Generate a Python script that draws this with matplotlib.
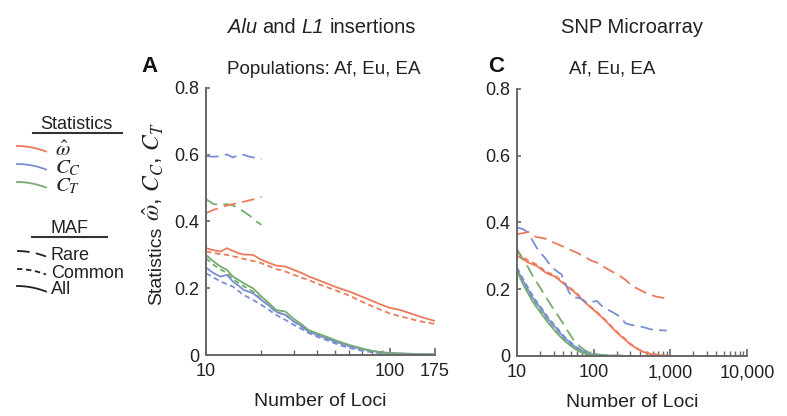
import numpy as np
import matplotlib
matplotlib.use('Agg')
import matplotlib.pyplot as plt
from matplotlib.lines import Line2D
from matplotlib.ticker import LogLocator, NullFormatter

plt.rcParams['font.family'] = ['Liberation Sans', 'DejaVu Sans']
plt.rcParams['mathtext.fontset'] = 'stix'

W, H = 787, 416

# ---- panel A: Alu and L1 insertions ----
L_X_RARE = [10, 11, 12, 13, 14, 15, 16, 17, 18, 19, 20]
L_OMEGA_RARE = [0.425, 0.435, 0.442, 0.448, 0.452, 0.455, 0.459, 0.463, 0.466, 0.470, 0.474]
L_CC_RARE = [0.596, 0.594, 0.596, 0.601, 0.592, 0.598, 0.600, 0.595, 0.592, 0.590, 0.587]
L_CT_RARE = [0.467, 0.452, 0.450, 0.452, 0.448, 0.440, 0.430, 0.420, 0.410, 0.398, 0.390]

L_X = [10, 11, 12, 13, 14, 15, 16, 18, 20, 22, 24, 27, 30, 33, 36, 40, 45, 50, 55,
       60, 70, 80, 90, 100, 113, 125, 140, 155, 175]
L_OMEGA_ALL = [0.320, 0.314, 0.310, 0.320, 0.312, 0.305, 0.301, 0.300, 0.285, 0.276,
               0.268, 0.265, 0.255, 0.246, 0.236, 0.226, 0.215, 0.205, 0.197, 0.190,
               0.175, 0.162, 0.150, 0.141, 0.135, 0.127, 0.118, 0.110, 0.102]
L_OMEGA_COMMON = [0.310, 0.306, 0.302, 0.300, 0.296, 0.292, 0.288, 0.282, 0.275, 0.266,
                  0.258, 0.250, 0.240, 0.232, 0.225, 0.214, 0.204, 0.195, 0.186, 0.178,
                  0.160, 0.146, 0.134, 0.124, 0.116, 0.110, 0.103, 0.098, 0.093]
L_CT_ALL = [0.300, 0.280, 0.265, 0.255, 0.235, 0.225, 0.215, 0.200, 0.175, 0.155,
            0.135, 0.130, 0.108, 0.092, 0.075, 0.065, 0.055, 0.045, 0.037, 0.030,
            0.020, 0.012, 0.008, 0.005, 0.004, 0.003, 0.002, 0.002, 0.001]
L_CT_COMMON = [0.290, 0.270, 0.256, 0.246, 0.228, 0.216, 0.206, 0.190, 0.166, 0.147,
               0.128, 0.120, 0.100, 0.085, 0.070, 0.060, 0.050, 0.040, 0.033, 0.027,
               0.018, 0.011, 0.007, 0.004, 0.003, 0.002, 0.002, 0.001, 0.001]
L_CC_ALL = [0.262, 0.245, 0.235, 0.240, 0.220, 0.208, 0.195, 0.185, 0.165, 0.148,
            0.130, 0.120, 0.100, 0.087, 0.070, 0.060, 0.050, 0.040, 0.033, 0.026,
            0.018, 0.012, 0.008, 0.006, 0.005, 0.004, 0.003, 0.002, 0.002]
L_CC_COMMON = [0.245, 0.232, 0.220, 0.212, 0.205, 0.192, 0.180, 0.165, 0.150, 0.135,
               0.120, 0.105, 0.090, 0.078, 0.066, 0.055, 0.045, 0.035, 0.027, 0.021,
               0.013, 0.008, 0.005, 0.003, 0.002, 0.002, 0.001, 0.001, 0.001]

# ---- panel C: SNP microarray ----
R_X = [10, 12, 14, 16, 18, 20, 23, 26, 30, 34, 38, 43, 48, 54, 60, 68, 76, 85, 95,
       110, 125, 145, 165, 190, 220, 260, 300, 350, 400, 470, 550, 650, 770, 900]
R_OMEGA_RARE = [0.365, 0.368, 0.372, 0.362, 0.356, 0.355, 0.352, 0.347, 0.340, 0.335,
                0.330, 0.325, 0.320, 0.314, 0.310, 0.303, 0.297, 0.291, 0.285, 0.280,
                0.272, 0.263, 0.256, 0.248, 0.240, 0.228, 0.215, 0.205, 0.198, 0.190,
                0.184, 0.178, 0.175, 0.172]
R_CC_RARE = [0.385, 0.380, 0.370, 0.345, 0.325, 0.310, 0.295, 0.278, 0.262, 0.252,
             0.245, 0.215, 0.190, 0.175, 0.175, 0.172, 0.163, 0.158, 0.162, 0.165,
             0.152, 0.141, 0.135, 0.127, 0.118, 0.098, 0.094, 0.091, 0.089, 0.085,
             0.080, 0.078, 0.077, 0.076]
R_CT_RARE = [0.320, 0.290, 0.265, 0.240, 0.222, 0.205, 0.182, 0.163, 0.140, 0.122,
             0.105, 0.085, 0.068, 0.050, 0.038, 0.026, 0.018, 0.012, 0.008, 0.005,
             0.003, 0.002, 0.001, 0.001, 0.001, 0.0, 0.0, 0.0, 0.0, 0.0,
             0.0, 0.0, 0.0, 0.0]
R_OMEGA_ALL = [0.300, 0.290, 0.280, 0.275, 0.270, 0.262, 0.252, 0.245, 0.240, 0.232,
               0.222, 0.212, 0.203, 0.195, 0.185, 0.173, 0.162, 0.152, 0.142, 0.130,
               0.118, 0.104, 0.090, 0.076, 0.062, 0.048, 0.035, 0.025, 0.017, 0.010,
               0.006, 0.004, 0.002, 0.001]
R_OMEGA_COMMON = [0.310, 0.297, 0.286, 0.280, 0.274, 0.266, 0.256, 0.249, 0.243, 0.235,
                  0.225, 0.215, 0.206, 0.197, 0.188, 0.176, 0.165, 0.154, 0.144, 0.132,
                  0.120, 0.106, 0.092, 0.078, 0.064, 0.050, 0.037, 0.026, 0.018, 0.011,
                  0.007, 0.004, 0.002, 0.001]
R_CC_ALL = [0.260, 0.225, 0.198, 0.175, 0.158, 0.145, 0.125, 0.108, 0.092, 0.078,
            0.064, 0.052, 0.042, 0.032, 0.024, 0.017, 0.012, 0.008, 0.005, 0.004,
            0.003, 0.002, 0.001, 0.001, 0.001, 0.0, 0.0, 0.0, 0.0, 0.0,
            0.0, 0.0, 0.0, 0.0]
R_CC_COMMON = [0.265, 0.231, 0.204, 0.181, 0.163, 0.150, 0.130, 0.112, 0.096, 0.082,
               0.068, 0.055, 0.045, 0.035, 0.026, 0.019, 0.013, 0.009, 0.006, 0.004,
               0.003, 0.002, 0.001, 0.001, 0.001, 0.0, 0.0, 0.0, 0.0, 0.0,
               0.0, 0.0, 0.0, 0.0]
R_CT_ALL = [0.255, 0.215, 0.187, 0.163, 0.146, 0.132, 0.113, 0.097, 0.080, 0.066,
            0.054, 0.043, 0.034, 0.025, 0.018, 0.012, 0.008, 0.005, 0.003, 0.002,
            0.001, 0.001, 0.0, 0.0, 0.0, 0.0, 0.0, 0.0, 0.0, 0.0,
            0.0, 0.0, 0.0, 0.0]
R_CT_COMMON = [0.258, 0.219, 0.191, 0.167, 0.150, 0.136, 0.117, 0.100, 0.083, 0.069,
               0.057, 0.046, 0.036, 0.027, 0.020, 0.013, 0.009, 0.006, 0.004, 0.002,
               0.001, 0.001, 0.0, 0.0, 0.0, 0.0, 0.0, 0.0, 0.0, 0.0,
               0.0, 0.0, 0.0, 0.0]

ORANGE = '#EE7A5C'
BLUE = '#7B8ED3'
GREEN = '#76AC70'
RARE = (0, (7, 3.5))
COMMON = (0, (3, 2))
ALL = '-'
LW = 1.3
SPINE = '#666666'
INK = '#222222'


def px(x, y):
    return x / W, 1 - y / H


def style_axes(ax):
    for side in ('top', 'right'):
        ax.spines[side].set_visible(False)
    for side in ('left', 'bottom'):
        ax.spines[side].set_color(SPINE)
        ax.spines[side].set_linewidth(1.4)
    ax.set_xscale('log')
    ax.set_ylim(0, 0.8)
    ax.set_yticks([0, 0.2, 0.4, 0.6, 0.8])
    ax.set_yticklabels(['0', '0.2', '0.4', '0.6', '0.8'])
    ax.tick_params(which='both', direction='in', color=SPINE, labelsize=13,
                   labelcolor=INK)
    ax.tick_params(axis='y', length=3, width=1.2, pad=5)
    ax.tick_params(axis='x', which='major', length=5, width=1.2, pad=6)
    ax.tick_params(axis='x', which='minor', length=3.5, width=1.0)
    ax.xaxis.set_minor_locator(LogLocator(base=10, subs=range(2, 10)))
    ax.xaxis.set_minor_formatter(NullFormatter())
    ax.set_xlabel('Number of Loci', fontsize=14, labelpad=9, color=INK)


fig = plt.figure(figsize=(W / 100, H / 100), dpi=100)
ax_l = fig.add_axes([206 / W, 1 - 355 / H, 229 / W, 267 / H])
ax_r = fig.add_axes([517 / W, 1 - 356 / H, 230 / W, 267 / H])

# panel A
ax_l.plot(L_X, L_CT_COMMON, color=GREEN, ls=COMMON, lw=LW)
ax_l.plot(L_X, L_CC_COMMON, color=BLUE, ls=COMMON, lw=LW)
ax_l.plot(L_X, L_OMEGA_COMMON, color=ORANGE, ls=COMMON, lw=LW)
ax_l.plot(L_X, L_CC_ALL, color=BLUE, ls=ALL, lw=LW)
ax_l.plot(L_X, L_CT_ALL, color=GREEN, ls=ALL, lw=LW)
ax_l.plot(L_X, L_OMEGA_ALL, color=ORANGE, ls=ALL, lw=LW)
ax_l.plot(L_X_RARE, L_CC_RARE, color=BLUE, ls=RARE, lw=LW)
ax_l.plot(L_X_RARE, L_CT_RARE, color=GREEN, ls=RARE, lw=LW)
ax_l.plot(L_X_RARE, L_OMEGA_RARE, color=ORANGE, ls=RARE, lw=LW)
style_axes(ax_l)
ax_l.set_xlim(10, 175)
ax_l.set_xticks([10, 100, 175])
ax_l.set_xticklabels(['10', '100', '175'])

# panel C
ax_r.plot(R_X, R_CT_COMMON, color=GREEN, ls=COMMON, lw=LW)
ax_r.plot(R_X, R_CC_COMMON, color=BLUE, ls=COMMON, lw=LW)
ax_r.plot(R_X, R_OMEGA_COMMON, color=ORANGE, ls=COMMON, lw=LW)
ax_r.plot(R_X, R_CC_ALL, color=BLUE, ls=ALL, lw=LW)
ax_r.plot(R_X, R_CT_ALL, color=GREEN, ls=ALL, lw=LW)
ax_r.plot(R_X, R_OMEGA_ALL, color=ORANGE, ls=ALL, lw=LW)
ax_r.plot(R_X, R_CT_RARE, color=GREEN, ls=RARE, lw=LW)
ax_r.plot(R_X, R_CC_RARE, color=BLUE, ls=RARE, lw=LW)
ax_r.plot(R_X, R_OMEGA_RARE, color=ORANGE, ls=RARE, lw=LW)
style_axes(ax_r)
ax_r.set_xlim(10, 10000)
ax_r.set_xticks([10, 100, 1000, 10000])
ax_r.set_xticklabels(['10', '100', '1,000', '10,000'])

renderer = fig.canvas.get_renderer()


def text_width(s, size, style='normal'):
    t = fig.text(0, 0, s, fontsize=size, style=style)
    w = t.get_window_extent(renderer).width
    t.remove()
    return w


def rich_title(xc, yb, parts, size):
    space = text_width('a a', size) - text_width('aa', size)
    widths = [text_width(s, size, st) for s, st in parts]
    x = xc - (sum(widths) + space * (len(parts) - 1)) / 2
    for (s, st), w in zip(parts, widths):
        fig.text(*px(x, yb), s, fontsize=size, style=st, va='baseline', color=INK)
        x += w + space


# y label: sans word followed by larger serif-italic symbols, written upward
ylab_word = 'Statistics'
ylab_math = r'$\hat{\omega}$, $C_C$, $C_T$'
ylab_x, ylab_y0 = 161, 305
fig.text(*px(ylab_x, ylab_y0), ylab_word, fontsize=14, rotation=90,
         rotation_mode='anchor', ha='left', va='baseline', color=INK)
gap = text_width('Statistics ', 14) - text_width('Statistics', 14)
fig.text(*px(ylab_x, ylab_y0 - text_width(ylab_word, 14) - max(gap, 4)),
         ylab_math, fontsize=17, rotation=90, rotation_mode='anchor',
         ha='left', va='baseline', color=INK)

# titles
rich_title(322, 33, [('Alu', 'italic'), ('and', 'normal'), ('L1', 'italic'),
                     ('insertions', 'normal')], 14.5)
fig.text(*px(632, 33), 'SNP Microarray', fontsize=14.5, ha='center',
         va='baseline', color=INK)
fig.text(*px(324, 74), 'Populations: Af, Eu, EA', fontsize=13.5, ha='center',
         va='baseline', color=INK)
fig.text(*px(612, 74), 'Af, Eu, EA', fontsize=13.5, ha='center',
         va='baseline', color=INK)
fig.text(*px(150, 72), 'A', fontsize=16, fontweight='bold', ha='center',
         va='baseline', color='#111111')
fig.text(*px(496, 72), 'C', fontsize=16, fontweight='bold', ha='center',
         va='baseline', color='#111111')

# hand-drawn legend on the left
glyph_dx = np.linspace(0, 29, 10)
glyph_dy = 5.5 * (glyph_dx / 29) ** 2


def glyph(x0, y0, color, ls):
    xs = [(x0 + dx) / W for dx in glyph_dx]
    ys = [1 - (y0 + dy) / H for dy in glyph_dy]
    fig.add_artist(Line2D(xs, ys, color=color, ls=ls, lw=LW))


def underline(x0, x1, y):
    fig.add_artist(Line2D([x0 / W, x1 / W], [1 - y / H, 1 - y / H],
                          color='#333333', lw=1.5))


fig.text(*px(76, 129), 'Statistics', fontsize=13, ha='center', va='baseline',
         color=INK)
underline(33, 122, 133)
stats = [(r'$\hat{\omega}$', ORANGE, 150), (r'$C_C$', BLUE, 168), (r'$C_T$', GREEN, 186)]
for label, color, yc in stats:
    glyph(17, yc - 4, color, '-')
    fig.text(*px(55, yc), label, fontsize=15, va='center', color=INK)

fig.text(*px(69, 233), 'MAF', fontsize=13, ha='center', va='baseline', color=INK)
underline(32, 107, 237)
mafs = [('Rare', RARE, 255), ('Common', COMMON, 273), ('All', ALL, 290)]
for label, ls, yc in mafs:
    glyph(17, yc - 4, '#222222', ls)
    fig.text(*px(51, yc), label, fontsize=13, va='center', color=INK)

fig.savefig('out.png', dpi=100)
